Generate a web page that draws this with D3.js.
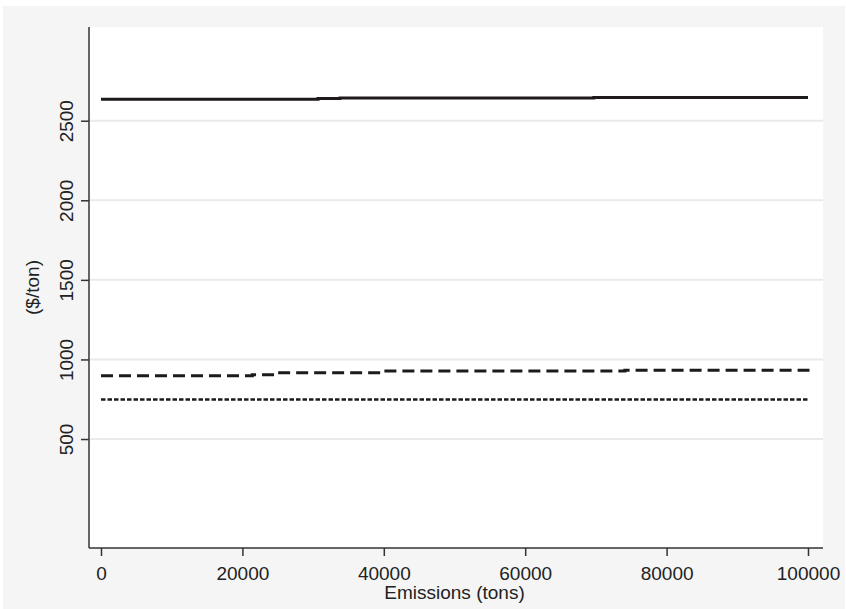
<!DOCTYPE html>
<html>
<head>
<meta charset="utf-8">
<script src="https://cdnjs.cloudflare.com/ajax/libs/d3/7.8.5/d3.min.js"></script>
<style>
  body { margin: 0; background: #fff; }
  text { font-family: "Liberation Sans", Arial, sans-serif; fill: #222; }
</style>
</head>
<body>
<script>
// Chart data
var xTicks = [0, 20000, 40000, 60000, 80000, 100000];
var yTicks = [500, 1000, 1500, 2000, 2500];

// solid line: emissions, $/ton
var solidX = [0, 30700, 33800, 69700, 100000];
var solidY = [2634, 2640, 2642, 2646, 2646];

// dashed line
var dashX = [0, 21400, 25000, 39900, 74100, 99200, 100000];
var dashY = [898, 904, 916, 927, 932, 932, 920];

// dotted line
var dotX = [0, 100000];
var dotY = [749, 749];

// Chart params
var svgWidth = 846;
var svgHeight = 609;
var plot = { left: 89, right: 823, top: 27, bottom: 548 };
var fontSize = "19px";

var svg = d3.select("body")
  .append("svg")
  .attr("width", svgWidth)
  .attr("height", svgHeight);

// outer gray panel
svg.append("rect")
  .attr("x", 3).attr("y", 6)
  .attr("width", 842).attr("height", svgHeight - 6)
  .attr("fill", "#f5f5f5");

// plot region
svg.append("rect")
  .attr("x", plot.left).attr("y", plot.top)
  .attr("width", plot.right - plot.left).attr("height", plot.bottom - plot.top)
  .attr("fill", "#ffffff");

var xScale = d3.scaleLinear().domain([0, 100000]).range([101, 808]);
var yScale = d3.scaleLinear().domain([0, 2500]).range([518.6, 120.7]);

// gridlines
svg.append("g")
  .selectAll("line")
  .data(yTicks)
  .enter()
  .append("line")
  .attr("x1", plot.left + 1)
  .attr("x2", plot.right)
  .attr("y1", d => yScale(d))
  .attr("y2", d => yScale(d))
  .attr("stroke", "#eaeaea")
  .attr("stroke-width", 2);

// y axis
var leftAxis = d3.axisLeft(yScale).tickValues(yTicks).tickSize(8).tickSizeOuter(0)
  .tickFormat(d3.format("d"));
var yAxisG = svg.append("g")
  .attr("transform", `translate(${plot.left}, 0)`)
  .call(leftAxis);
yAxisG.select(".domain").remove();
yAxisG.append("line")
  .attr("x1", 0).attr("x2", 0)
  .attr("y1", plot.top).attr("y2", plot.bottom)
  .attr("stroke", "#333").attr("stroke-width", 1.5);
yAxisG.selectAll(".tick line").attr("stroke", "#333").attr("stroke-width", 1.5);
yAxisG.selectAll(".tick text")
  .attr("transform", "rotate(-90)")
  .attr("x", 0)
  .attr("y", -16)
  .attr("dy", "0")
  .attr("text-anchor", "middle")
  .style("font-size", fontSize)
  .style("font-family", "Liberation Sans, Arial, sans-serif")
  .attr("fill", "#222");

// x axis
var bottomAxis = d3.axisBottom(xScale).tickValues(xTicks).tickSize(8).tickPadding(11).tickSizeOuter(0)
  .tickFormat(d3.format("d"));
var xAxisG = svg.append("g")
  .attr("transform", `translate(0, ${plot.bottom})`)
  .call(bottomAxis);
xAxisG.select(".domain").remove();
xAxisG.append("line")
  .attr("x1", plot.left).attr("x2", plot.right)
  .attr("y1", 0).attr("y2", 0)
  .attr("stroke", "#333").attr("stroke-width", 1.5);
xAxisG.selectAll(".tick line").attr("stroke", "#333").attr("stroke-width", 1.5);
xAxisG.selectAll(".tick text")
  .style("font-size", fontSize)
  .style("font-family", "Liberation Sans, Arial, sans-serif")
  .attr("fill", "#222");

// axis titles
svg.append("text")
  .attr("x", (xScale(0) + xScale(100000)) / 2)
  .attr("y", 599)
  .attr("text-anchor", "middle")
  .style("font-size", fontSize)
  .text("Emissions (tons)");

svg.append("text")
  .attr("transform", `translate(39, ${(plot.top + plot.bottom) / 2}) rotate(-90)`)
  .attr("text-anchor", "middle")
  .style("font-size", fontSize)
  .text("($/ton)");

// step lines
var stepLine = function(xs, ys) {
  var pts = xs.map((x, i) => [x, ys[i]]);
  return d3.line()
    .x(d => xScale(d[0]))
    .y(d => yScale(d[1]))
    .curve(d3.curveStepAfter)(pts);
};

svg.append("path")
  .attr("d", stepLine(solidX, solidY))
  .attr("fill", "none")
  .attr("stroke", "#1e1a1a")
  .attr("stroke-width", 3);

svg.append("path")
  .attr("d", stepLine(dashX, dashY))
  .attr("fill", "none")
  .attr("stroke", "#1e1a1a")
  .attr("stroke-width", 3)
  .attr("stroke-dasharray", "12,6");

svg.append("path")
  .attr("d", stepLine(dotX, dotY))
  .attr("fill", "none")
  .attr("stroke", "#1e1a1a")
  .attr("stroke-width", 2.5)
  .attr("stroke-dasharray", "4.5,2");
</script>
</body>
</html>
